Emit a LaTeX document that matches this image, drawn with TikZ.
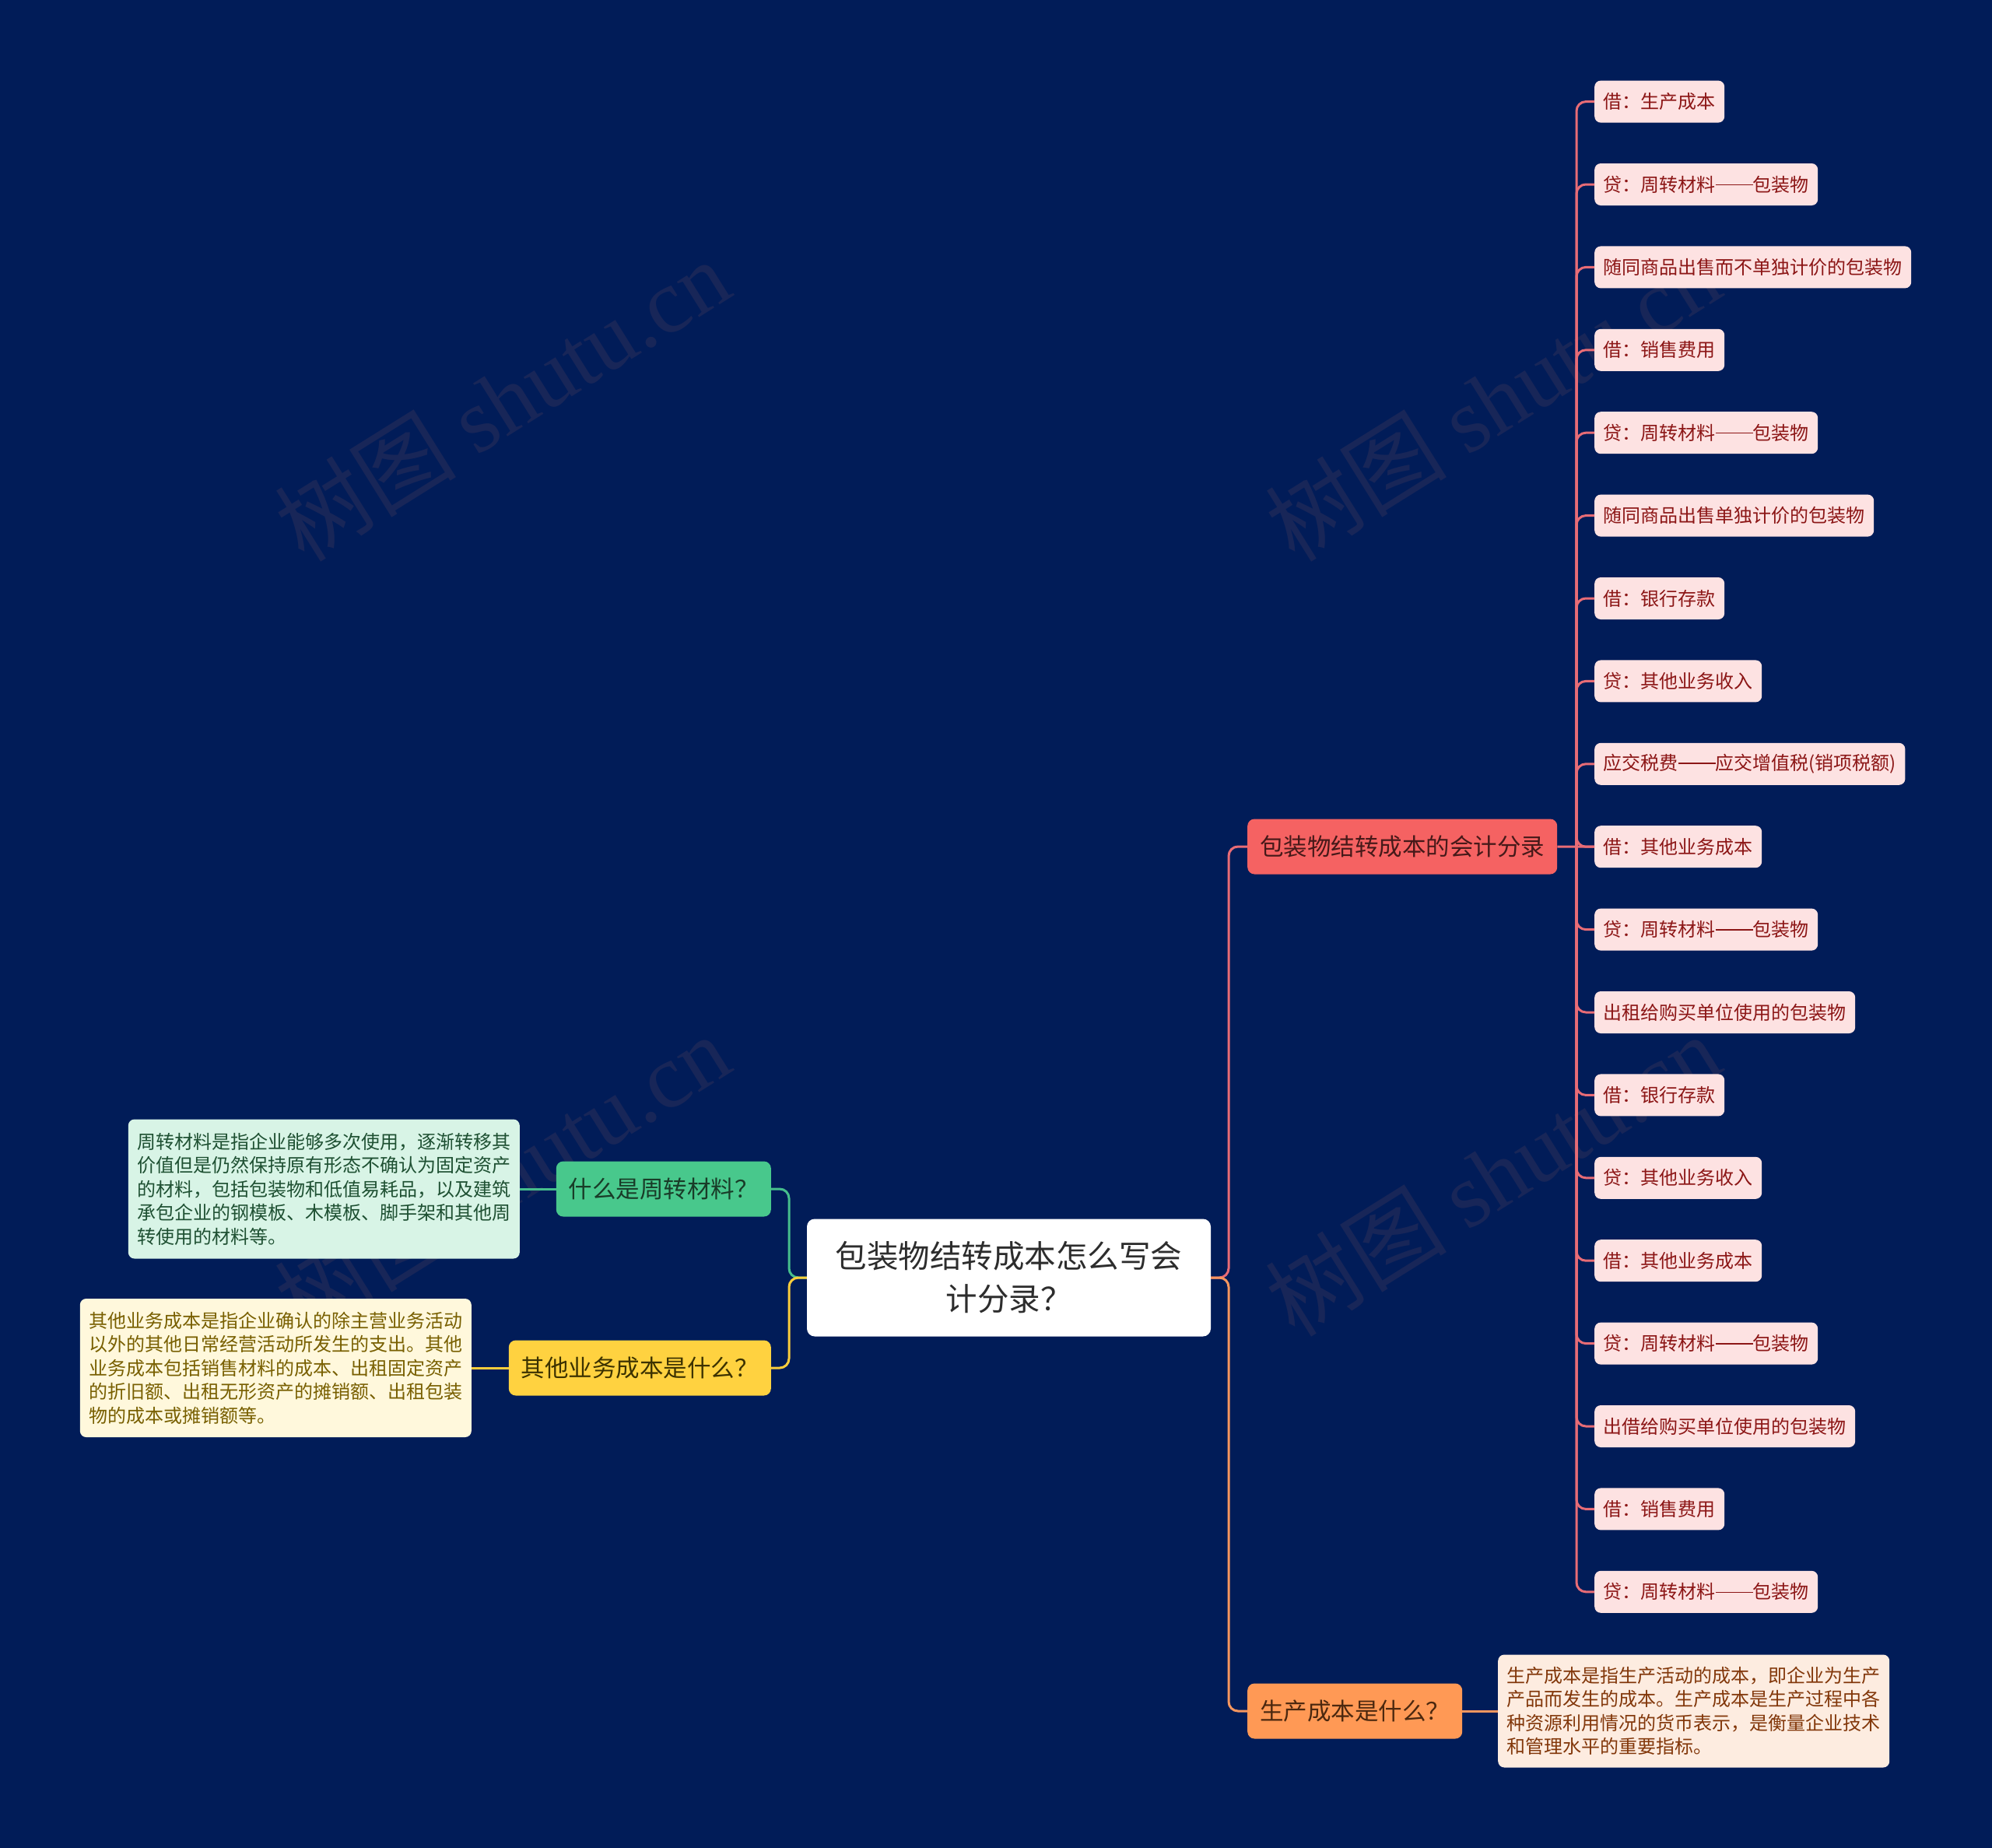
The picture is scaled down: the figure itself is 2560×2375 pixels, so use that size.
\documentclass[tikz,border=0pt]{standalone}
\usepackage{fontspec}
\setmainfont{Noto Sans CJK SC}
\newfontfamily\wmlatin{Liberation Serif}
\definecolor{bg}{RGB}{1,28,88}
\definecolor{wmcol}{RGB}{24,38,88}
\definecolor{ctext}{RGB}{45,45,45}
\definecolor{redfill}{RGB}{245,98,98}
\definecolor{redtext}{RGB}{70,25,25}
\definecolor{redline}{RGB}{232,108,118}
\definecolor{leaffill}{RGB}{253,226,226}
\definecolor{leaftext}{RGB}{140,22,22}
\definecolor{orfill}{RGB}{255,153,85}
\definecolor{ortext}{RGB}{75,40,15}
\definecolor{orline}{RGB}{245,150,95}
\definecolor{ordfill}{RGB}{253,236,224}
\definecolor{ordtext}{RGB}{130,55,10}
\definecolor{grfill}{RGB}{72,200,140}
\definecolor{grtext}{RGB}{25,60,40}
\definecolor{grline}{RGB}{70,190,140}
\definecolor{grdfill}{RGB}{216,244,230}
\definecolor{grdtext}{RGB}{30,80,50}
\definecolor{yefill}{RGB}{255,210,64}
\definecolor{yetext}{RGB}{60,50,0}
\definecolor{yeline}{RGB}{250,205,60}
\definecolor{yedfill}{RGB}{255,248,220}
\definecolor{yedtext}{RGB}{120,95,0}
\newcommand{\cjkdash}{\rule[0.33em]{2em}{0.06em}}
\begin{document}
\begin{tikzpicture}[x=1pt,y=-1pt,
  wm/.style={text=wmcol, rotate=32, font=\fontsize{117}{117}\selectfont, inner sep=0},
  central/.style={fill=white, text=ctext, rounded corners=10, align=center,
    font=\fontsize{40.5}{55}\selectfont, minimum width=519, minimum height=151, inner sep=0},
  branch/.style={rounded corners=9, font=\fontsize{30.5}{36}\selectfont,
    inner xsep=16, inner ysep=0, minimum height=71},
  leaf/.style={fill=leaffill, text=leaftext, rounded corners=8, font=\fontsize{24}{30}\selectfont,
    inner xsep=11.5, inner ysep=0, minimum height=54, anchor=west},
  desc/.style={rounded corners=8, font=\fontsize{24}{30.5}\selectfont, align=left,
    inner xsep=11.5, inner ysep=0},
  conn/.style={line width=3, rounded corners=12},
]
\fill[bg] (0,0) rectangle (2560,2375);
\useasboundingbox (0,0) rectangle (2560,2375);
% watermarks
\foreach \wx/\wy [count=\k] in {645/514, 1918/514, 645/1510, 1918/1510}
  \node[wm] (wm\k) at (\wx,\wy) {树图 {\wmlatin shutu.cn}};

% central
\node[central] (c) at (1296.5,1642) {包装物结转成本怎么写会\\计分录？};

% right branches
\node[branch, fill=redfill, text=redtext, anchor=west] (red) at (1603,1088) {包装物结转成本的会计分录};
\node[branch, fill=orfill, text=ortext, anchor=west] (org) at (1603,2199) {生产成本是什么？};
% left branches
\node[branch, fill=grfill, text=grtext, anchor=east] (grn) at (991,1528) {什么是周转材料？};
\node[branch, fill=yefill, text=yetext, anchor=east] (yel) at (991,1758) {其他业务成本是什么？};

% descriptions
\node[desc, fill=grdfill, text=grdtext, anchor=east, minimum height=179] (gd) at (668,1528)
 {周转材料是指企业能够多次使用，逐渐转移其\\价值但是仍然保持原有形态不确认为固定资产\\的材料，包括包装物和低值易耗品，以及建筑\\承包企业的钢模板、木模板、脚手架和其他周\\转使用的材料等。};
\node[desc, fill=yedfill, text=yedtext, anchor=east, minimum height=178] (yd) at (606,1758)
 {其他业务成本是指企业确认的除主营业务活动\\以外的其他日常经营活动所发生的支出。其他\\业务成本包括销售材料的成本、出租固定资产\\的折旧额、出租无形资产的摊销额、出租包装\\物的成本或摊销额等。};
\node[desc, fill=ordfill, text=ordtext, anchor=west, minimum height=145] (od) at (1925,2199)
 {生产成本是指生产活动的成本，即企业为生产\\产品而发生的成本。生产成本是生产过程中各\\种资源利用情况的货币表示，是衡量企业技术\\和管理水平的重要指标。};

% leaves
\foreach \t [count=\i from 0] in {
  {借：生产成本},
  {贷：周转材料\cjkdash 包装物},
  {随同商品出售而不单独计价的包装物},
  {借：销售费用},
  {贷：周转材料\cjkdash 包装物},
  {随同商品出售单独计价的包装物},
  {借：银行存款},
  {贷：其他业务收入},
  {应交税费\cjkdash 应交增值税(销项税额)},
  {借：其他业务成本},
  {贷：周转材料\cjkdash 包装物},
  {出租给购买单位使用的包装物},
  {借：银行存款},
  {贷：其他业务收入},
  {借：其他业务成本},
  {贷：周转材料\cjkdash 包装物},
  {出借给购买单位使用的包装物},
  {借：销售费用},
  {贷：周转材料\cjkdash 包装物}}
  \node[leaf] (L\i) at (2049,{130.6+106.4*\i}) {\t};

% connectors
\coordinate (jr) at (1579,1642);
\coordinate (jl) at (1014,1642);
\coordinate (bar) at (2026,1088);
\draw[conn, draw=redline] (c.east) -- (jr) |- (red.west);
\draw[conn, draw=orline] (c.east) -- (jr) |- (org.west);
\draw[conn, draw=grline] (c.west) -- (jl) |- (grn.east);
\draw[conn, draw=yeline] (c.west) -- (jl) |- (yel.east);
\draw[conn, draw=grline] (grn.west) -- (gd.east);
\draw[conn, draw=yeline] (yel.west) -- (yd.east);
\draw[conn, draw=orline] (org.east) -- (od.west);
\draw[conn, draw=redline] (red.east) -- (L9.west);
\foreach \i in {0,...,18}
  \draw[conn, draw=redline] (bar) |- (L\i.west);
\end{tikzpicture}
\end{document}
